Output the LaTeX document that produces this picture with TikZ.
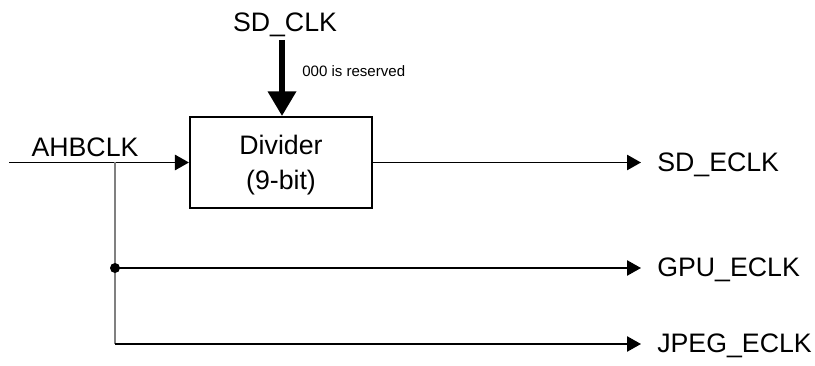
\documentclass[tikz,border=0pt]{standalone}
\usepackage{fontspec}
\setmainfont{Liberation Sans}
\usetikzlibrary{arrows.meta}

\begin{document}
\begin{tikzpicture}[x=0.025cm, y=-0.025cm,
    sig/.style={line width=1.4pt, -{Triangle[length=0.35cm, width=0.38cm]}},
    wire/.style={line width=1.4pt},
    lbl/.style={font=\fontsize{19}{24.9}\selectfont, inner sep=0pt},
    note/.style={font=\fontsize{10.7}{13}\selectfont, inner sep=0pt}]
    % Page frame, in pixel units (y grows downwards)
    \useasboundingbox (0,0) rectangle (815,366);

    % Divider block
    \node[draw, line width=1.4pt, minimum width=4.55cm, minimum height=2.27cm,
          lbl, align=center, text depth=0pt] (divider) at (281,162.5) {Divider\\(9-bit)};

    % Select input from above
    \node[lbl, anchor=base] (sdclk) at (285,32) {SD\_CLK};
    \coordinate (sdin) at (282,40);
    \draw[line width=4.3pt, -{Triangle[length=0.62cm, width=0.68cm]}] (sdin) -- (sdin |- divider.north);
    \node[note, anchor=base west] (rsv) at (302,77) {000 is reserved};

    % Clock input
    \node[lbl, anchor=base] (ahbclk) at (85,157) {AHBCLK};
    \coordinate (ahbin) at (9,162.5);
    \coordinate (tap) at (115,162.5);
    \coordinate (gpubr) at (115,268);
    \coordinate (jpegbr) at (115,344);
    \draw[sig] (ahbin) -- (divider.west);

    % Branch down to the other two clocks
    \draw[line width=1pt, gray] (tap) -- (jpegbr);
    \fill (gpubr) circle (0.125cm);

    % Outputs
    \coordinate (sdout) at (641,162.5);
    \coordinate (gpuout) at (641,268);
    \coordinate (jpegout) at (641,344);
    \draw[sig] (divider.east) -- (sdout);
    \draw[sig] (gpubr) -- (gpuout);
    \draw[sig] (jpegbr) -- (jpegout);
    \node[lbl, anchor=base west] (sdeclk) at (657,172) {SD\_ECLK};
    \node[lbl, anchor=base west] (gpueclk) at (657,277) {GPU\_ECLK};
    \node[lbl, anchor=base west] (jpegeclk) at (657,352) {JPEG\_ECLK};
\end{tikzpicture}
\end{document}
